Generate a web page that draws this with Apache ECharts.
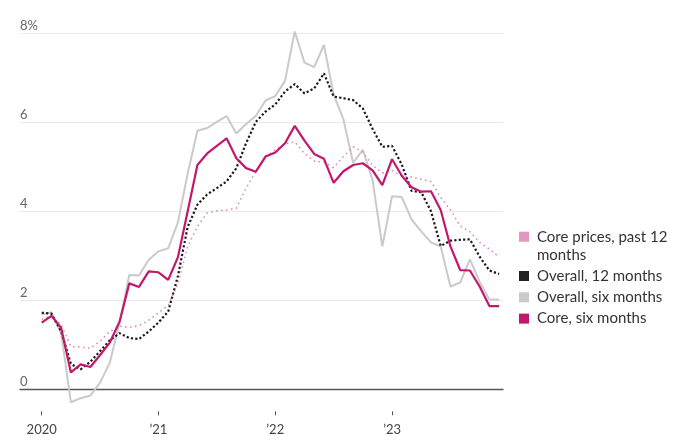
<!DOCTYPE html>
<html><head><meta charset="utf-8">
<script src="https://cdn.jsdelivr.net/npm/echarts@6/dist/echarts.min.js"></script>
<style>html,body{margin:0;padding:0;background:#fff}#c{width:698px;height:446px}</style>
</head><body><div id="c"></div>
<script>
const months = [
 '2020-01','2020-02','2020-03','2020-04','2020-05','2020-06','2020-07','2020-08','2020-09','2020-10','2020-11','2020-12',
 '2021-01','2021-02','2021-03','2021-04','2021-05','2021-06','2021-07','2021-08','2021-09','2021-10','2021-11','2021-12',
 '2022-01','2022-02','2022-03','2022-04','2022-05','2022-06','2022-07','2022-08','2022-09','2022-10','2022-11','2022-12',
 '2023-01','2023-02','2023-03','2023-04','2023-05','2023-06','2023-07','2023-08','2023-09','2023-10','2023-11','2023-12'
];
const core12Months = [1.57,1.66,1.45,0.96,0.95,0.92,1.08,1.30,1.42,1.39,1.43,1.55,
 1.72,1.88,2.38,3.21,3.66,3.96,4.01,4.03,4.07,4.52,4.89,5.23,
 5.38,5.52,5.56,5.30,5.13,5.10,4.98,5.23,5.45,5.33,5.03,4.86,
 4.92,4.79,4.77,4.72,4.67,4.31,4.03,3.67,3.54,3.30,3.15,2.97];
const overall12Months = [1.72,1.70,1.30,0.57,0.45,0.62,0.86,1.10,1.26,1.15,1.13,1.30,
 1.50,1.75,2.55,3.65,4.15,4.38,4.52,4.67,4.97,5.53,6.01,6.24,
 6.40,6.69,6.86,6.65,6.76,7.10,6.58,6.54,6.50,6.31,5.85,5.45,
 5.47,5.05,4.46,4.43,4.00,3.22,3.34,3.36,3.37,2.98,2.67,2.59];
const overallSixMonths = [1.68,1.73,1.26,-0.29,-0.20,-0.14,0.15,0.60,1.49,2.57,2.56,2.91,
 3.10,3.17,3.75,4.85,5.81,5.87,6.01,6.14,5.75,5.96,6.14,6.49,
 6.59,6.93,8.04,7.34,7.24,7.74,6.62,6.07,5.09,5.38,4.70,3.21,
 4.34,4.32,3.82,3.55,3.30,3.21,2.31,2.40,2.92,2.42,2.02,2.02];
const coreSixMonths = [1.50,1.65,1.38,0.38,0.56,0.50,0.77,1.05,1.52,2.38,2.30,2.65,
 2.63,2.46,2.97,4.00,5.04,5.30,5.47,5.64,5.19,4.97,4.89,5.23,
 5.32,5.53,5.92,5.59,5.29,5.18,4.64,4.90,5.04,5.08,4.92,4.59,
 5.17,4.80,4.54,4.44,4.45,4.03,3.21,2.68,2.67,2.31,1.87,1.87];
const xTickMonths = ['2020-01','2021-01','2022-01','2023-01'];
const xTickLabels = ['2020','\u201921','\u201922','\u201923'];
const yTicks = [0,2,4,6,8];
const legendNames = ['Core prices, past 12 months','Overall, 12 months','Overall, six months','Core, six months'];

const FONT = 'Lato';
const toPts = arr => arr.map((v,i)=>[months.indexOf(months[i]), v]);
const tickIdx = xTickMonths.map(m => months.indexOf(m));
const xMin = -2.23, xMax = 47.4;

const chart = echarts.init(document.getElementById('c'), null, {renderer:'canvas'});
chart.setOption({
  animation:false,
  backgroundColor:'#fff',
  textStyle:{fontFamily:FONT},
  grid:{left:20, right:195, top:33.3, bottom:56.7},
  legend:{
    orient:'vertical', left:519, top:209.7, padding:0,
    itemWidth:10, itemHeight:10, itemGap:3.3,
    icon:'rect',
    textStyle:{fontFamily:FONT, fontSize:15, color:'#333', lineHeight:18, padding:[0,0,0,3]},
    data:[
      {name:legendNames[0]},
      {name:legendNames[1]},{name:legendNames[2]},{name:legendNames[3]}
    ],
    formatter: n => n === legendNames[0] ? '\nCore prices, past 12\nmonths' : n
  },
  xAxis:[
    {type:'value', min:xMin, max:xMax, show:true,
     axisLine:{show:true, lineStyle:{color:'#555', width:1.4}},
     axisTick:{show:false}, axisLabel:{show:false}, splitLine:{show:false}},
    {type:'value', min:xMin, max:xMax, position:'bottom', offset:22,
     axisLine:{show:false},
     axisTick:{show:true, length:4, customValues:tickIdx, lineStyle:{color:'#555', width:1}},
     axisLabel:{show:true, customValues:tickIdx, margin:12, fontSize:13, color:'#444', fontFamily:FONT,
       formatter: v => xTickLabels[tickIdx.indexOf(Math.round(v))] || ''},
     splitLine:{show:false}}
  ],
  yAxis:{type:'value', min:0, max:8, interval:2,
    axisLine:{show:false}, axisTick:{show:false},
    splitLine:{show:true, lineStyle:{color:'#ebebeb', width:1}},
    axisLabel:{inside:true, margin:0, verticalAlign:'bottom', fontSize:13, color:'#666', fontFamily:FONT,
      padding:[0,0,1,0],
      formatter: v => yTicks.indexOf(v) === yTicks.length-1 ? v + '%' : String(v)}
  },
  series:[
    {name:legendNames[2], type:'line', xAxisIndex:0, data:toPts(overallSixMonths), symbol:'none', clip:false,
     itemStyle:{color:'#cacaca'}, lineStyle:{color:'#cacaca', width:2}},
    {name:legendNames[0], type:'line', xAxisIndex:0, data:toPts(core12Months), symbol:'none', clip:false,
     itemStyle:{color:'#e396c2'}, lineStyle:{color:'#df8dba', width:1.6, type:[1.6,3.4]}},
    {name:legendNames[1], type:'line', xAxisIndex:0, data:toPts(overall12Months), symbol:'none', clip:false,
     itemStyle:{color:'#222'}, lineStyle:{color:'#1a1a1a', width:2.2, type:[2.2,2.2]}},
    {name:legendNames[3], type:'line', xAxisIndex:0, data:toPts(coreSixMonths), symbol:'none', clip:false,
     itemStyle:{color:'#c2186b'}, lineStyle:{color:'#c2186b', width:2.2}}
  ]
});
</script></body></html>
